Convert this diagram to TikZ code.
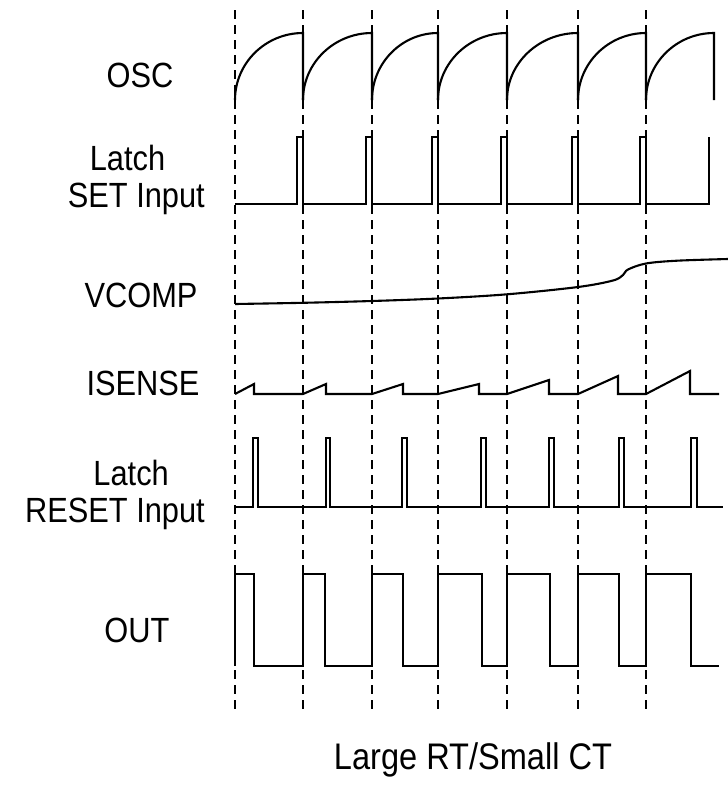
\documentclass[tikz,border=0pt]{standalone}
\usepackage{fontspec}
\setmainfont{Liberation Sans}
\newfontfamily\lblfont[FakeStretch=0.88]{Liberation Sans}
\usepackage{tikz}

\begin{document}
\begin{tikzpicture}[
    x=1pt, y=-1pt,
    wave/.style={line width=2.1pt, line join=miter},
    grid/.style={line width=1.8pt, dash pattern=on 9pt off 6pt},
    lbl/.style={font=\lblfont\fontsize{35}{37}\selectfont, align=center, inner sep=0pt}
]
\useasboundingbox (0,0) rectangle (728,785);
% clock edges
\foreach \x in {235,303,372,438,507,578,646}
    \draw[grid] (\x,10) -- (\x,712);
% OSC
\foreach \a/\b in {235/303,303/372,372/438,438/507,507/578,578/646,646/714}
    \draw[wave] (\a,100) .. controls (\a,63) and ({\a+0.45*(\b-\a)},33) .. (\b,33) -- (\b,100);
% SET
\draw[wave] (235,204) foreach \p in {303,372,438,507,578,646} {
    -- ({\p-6},204) -- ({\p-6},137) -- (\p,137) -- (\p,204) } -- (709,204) -- (709,137);
% VCOMP
\draw[wave] plot[smooth, tension=0.55] coordinates {(235,304) (303,302.8) (372,301) (438,298.5)
    (507,294.3) (578,287) (613,280.5) (623,275) (628,269.5) (646,263.5) (677,260.7) (728,259)};
% ISENSE
\draw[wave] (235,394) foreach \s/\p/\h in {235/254/384,303/326/384,372/403/384,438/479/384,507/549/380,578/618/376,646/690/371} {
    -- (\s,394) -- (\p,\h) -- (\p,394) } -- (719,394);
% RESET
\draw[wave] (235,507) foreach \u/\d in {253/258,326/330,402/407,481/486,549/554,619/624,691/697} {
    -- (\u,507) -- (\u,438) -- (\d,438) -- (\d,507) } -- (723,507);
% OUT
\draw[wave] (235,666) foreach \r/\f in {235/254,303/325,372/403,438/482,507/550,578/619,646/691} {
    -- (\r,666) -- (\r,574) -- (\f,574) -- (\f,666) } -- (719,666);
% labels
\node[lbl] (osc) at (140,75) {OSC};
\node[lbl, align=left, anchor=east] (set) at (205,180) {\hspace*{22pt}Latch\\SET Input};
\node[lbl] (vcomp) at (141,295) {VCOMP};
\node[lbl] (isense) at (143,383) {ISENSE};
\node[lbl, align=right, anchor=east] (reset) at (205,495) {Latch\hspace*{36pt}\\RESET Input};
\node[lbl] (out) at (137,630) {OUT};
\node[lbl, font=\lblfont\fontsize{37}{40}\selectfont] (caption) at (473,760) {Large RT/Small CT};
\end{tikzpicture}
\end{document}
